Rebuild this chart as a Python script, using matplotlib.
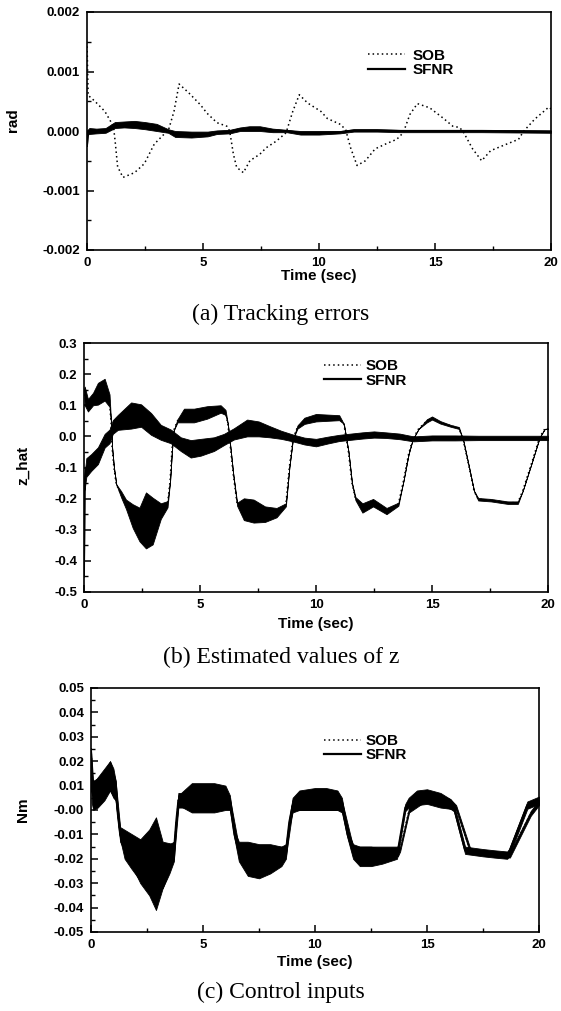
import numpy as np
import matplotlib
matplotlib.use("Agg")
import matplotlib.pyplot as plt
from matplotlib.ticker import MultipleLocator, FormatStrFormatter
from matplotlib.lines import Line2D

plt.rcParams['font.family'] = ['Liberation Sans', 'DejaVu Sans']

# ---------------- (a) Tracking errors ----------------
t_a_sob = [0, 0.05, 0.34, 0.77, 1.05, 1.15, 1.22, 1.32, 1.55, 2.05,
           2.47, 2.9, 3.33, 3.5, 3.75, 3.97, 4.39, 4.89, 5.17, 5.6,
           6.03, 6.15, 6.31, 6.45, 6.74, 7.02, 7.45, 7.73, 8.16, 8.58,
           8.87, 9.15, 9.51, 10.08, 10.36, 10.93, 11.15, 11.36, 11.64, 12.0,
           12.42, 12.92, 13.35, 13.63, 13.92, 14.24, 14.77, 15.34, 15.77, 16.05,
           16.2, 16.62, 17.01, 17.4, 17.9, 18.6, 18.83, 19.3, 19.9, 20.0]
v_a_sob = [0.0015, 0.0006, 0.0005, 0.00033, 0.00014, 0.00005, -0.0002, -0.0006, -0.00078, -0.0007,
           -0.00055, -0.00022, -0.00005, 0.0, 0.00033, 0.00079, 0.00064, 0.00044, 0.0003, 0.00014,
           0.00008, 0.0, -0.00039, -0.00061, -0.0007, -0.0005, -0.00039, -0.00028, -0.00017, -0.00003,
           0.00033, 0.00061, 0.00047, 0.00033, 0.00021, 0.00011, 0.00002, -0.00028, -0.00058, -0.0005,
           -0.0003, -0.00021, -0.00014, -0.00003, 0.00028, 0.00046, 0.00039, 0.00022, 0.00008, 0.00006,
           0.0, -0.0003, -0.0005, -0.00033, -0.00025, -0.00014, 0.0, 0.0002, 0.0004, 0.00037]

t_a_sfnr = [0, 0.03, 0.1, 0.4, 0.8, 1.2, 1.6, 2.05, 2.5, 3.0,
            3.5, 3.8, 4.5, 5.2, 5.6, 6.15, 6.6, 7.0, 7.45, 8.0,
            8.6, 9.2, 10.0, 10.9, 11.5, 12.5, 13.5, 15.0, 17.0, 20.0]
v_a_sfnr = [-0.00025, -0.00002, 0.0, 0.0, 0.00001, 0.0001, 0.00011, 0.00011, 0.00009, 0.00006,
            0.0, -0.00005, -0.00006, -0.00005, -0.00002, -0.00001, 0.00003, 0.00004, 0.00004, 0.00001,
            0.0, -0.00003, -0.00003, -0.00002, 0.00001, 0.00001, 0.0, 0.0, 0.0, -0.00001]
n_a_sfnr = [0.0, 0.00004, 0.00005, 0.00004, 0.00004, 0.00005, 0.00005, 0.00006, 0.00006, 0.00006,
            0.00003, 0.00005, 0.00005, 0.00004, 0.00003, 0.00003, 0.00003, 0.00004, 0.00004, 0.00003,
            0.00002, 0.00003, 0.00003, 0.00002, 0.00002, 0.00002, 0.00002, 0.00002, 0.00002, 0.00002]

# ---------------- (b) Estimated values of z ----------------
t_b_sob = [0, 0.03, 0.17, 0.39, 0.6, 0.89, 1.1, 1.17, 1.21, 1.29,
           1.39, 1.6, 1.81, 2.1, 2.39, 2.67, 2.96, 3.31, 3.6, 3.71,
           3.79, 3.86, 4.03, 4.31, 4.74, 5.31, 5.89, 6.1, 6.2, 6.31,
           6.43, 6.6, 6.89, 7.31, 7.8, 8.3, 8.7, 8.85, 9.0, 9.2,
           9.5, 10.0, 10.5, 11.0, 11.2, 11.4, 11.55, 11.7, 12.0, 12.46,
           13.04, 13.55, 13.77, 13.99, 14.17, 14.42, 14.78, 15.0, 15.36, 15.8,
           16.16, 16.35, 16.6, 16.81, 16.99, 17.54, 18.26, 18.7, 18.91, 19.28,
           19.64, 19.86, 20.0]
v_b_sob = [0.15, 0.13, 0.10, 0.12, 0.137, 0.15, 0.115, 0.04, -0.035, -0.10,
           -0.154, -0.186, -0.218, -0.256, -0.283, -0.27, -0.272, -0.24, -0.218, -0.143,
           -0.046, 0.018, 0.05, 0.067, 0.067, 0.077, 0.088, 0.077, 0.04, -0.035,
           -0.12, -0.218, -0.234, -0.24, -0.25, -0.245, -0.22, -0.1, -0.01, 0.03,
           0.05, 0.06, 0.06, 0.06, 0.04, -0.05, -0.15, -0.2, -0.23, -0.213,
           -0.24, -0.218, -0.143, -0.057, -0.009, 0.024, 0.05, 0.059, 0.045, 0.034,
           0.027, -0.014, -0.1, -0.175, -0.202, -0.205, -0.213, -0.213, -0.175, -0.089,
           -0.003, 0.024, 0.025]
n_b_sob = [0.0, 0.03, 0.02, 0.02, 0.035, 0.035, 0.02, 0.0, 0.0, 0.0,
           0.0, 0.01, 0.015, 0.038, 0.054, 0.09, 0.075, 0.025, 0.01, 0.0,
           0.0, 0.0, 0.005, 0.022, 0.022, 0.02, 0.012, 0.008, 0.0, 0.0,
           0.0, 0.005, 0.035, 0.037, 0.025, 0.015, 0.005, 0.0, 0.0, 0.005,
           0.01, 0.012, 0.01, 0.008, 0.0, 0.0, 0.0, 0.005, 0.015, 0.012,
           0.01, 0.005, 0.0, 0.0, 0.0, 0.0, 0.005, 0.005, 0.004, 0.003,
           0.003, 0.0, 0.0, 0.0, 0.004, 0.004, 0.004, 0.004, 0.0, 0.0,
           0.0, 0.0, 0.0]

t_b_sfnr = [0, 0.02, 0.1, 0.31, 0.6, 0.89, 1.1, 1.24, 1.46, 2.03,
            2.46, 2.89, 3.31, 3.74, 4.17, 4.6, 5.03, 5.6, 6.03, 6.46,
            7.03, 7.53, 8.0, 8.5, 9.0, 9.5, 10.0, 10.5, 11.0, 12.0,
            12.5, 13.0, 13.6, 14.2, 15.0, 16.0, 17.0, 18.0, 19.0, 20.0]
v_b_sfnr = [-0.45, -0.15, -0.1, -0.084, -0.062, -0.014, 0.0, 0.03, 0.045, 0.067,
            0.067, 0.04, 0.013, 0.0, -0.025, -0.04, -0.035, -0.025, -0.01, 0.008,
            0.027, 0.024, 0.015, 0.005, -0.005, -0.015, -0.02, -0.012, -0.005, 0.003,
            0.006, 0.004, 0.0, -0.008, -0.005, -0.005, -0.005, -0.005, -0.005, -0.005]
n_b_sfnr = [0.0, 0.025, 0.03, 0.027, 0.027, 0.022, 0.022, 0.022, 0.024, 0.042,
            0.036, 0.035, 0.024, 0.022, 0.022, 0.028, 0.027, 0.022, 0.018, 0.018,
            0.027, 0.024, 0.018, 0.013, 0.011, 0.011, 0.012, 0.011, 0.01, 0.01,
            0.01, 0.009, 0.009, 0.008, 0.008, 0.008, 0.007, 0.007, 0.007, 0.007]

# ---------------- (c) Control inputs ----------------
t_c_sfnr = [0, 0.03, 0.1, 0.3, 0.6, 0.85, 1.0, 1.1, 1.2, 1.3,
            1.5, 1.8, 2.2, 2.6, 2.9, 3.2, 3.5, 3.7, 3.8, 3.9,
            4.5, 5.0, 5.5, 6.0, 6.2, 6.4, 6.6, 7.0, 7.5, 8.0,
            8.5, 8.7, 8.85, 9.0, 9.3, 10.0, 10.5, 11.0, 11.2, 11.45,
            11.7, 12.0, 12.5, 13.0, 13.66, 13.73, 14.03, 14.18, 14.55, 15.0,
            15.6, 16.04, 16.2, 16.7, 17.5, 18.0, 18.58, 18.66, 19.48, 20.0]
v_c_sfnr = [0.025, 0.008, 0.006, 0.007, 0.01, 0.014, 0.011, 0.008, -0.002, -0.01,
            -0.015, -0.018, -0.021, -0.023, -0.024, -0.023, -0.02, -0.017, -0.005, 0.004,
            0.005, 0.005, 0.005, 0.005, 0.003, -0.01, -0.017, -0.02, -0.021, -0.02,
            -0.019, -0.017, -0.005, 0.002, 0.004, 0.0045, 0.0045, 0.004, 0.002, -0.01,
            -0.017, -0.019, -0.019, -0.019, -0.018, -0.015, 0.001, 0.003, 0.005, 0.0055,
            0.004, 0.0025, 0.001, -0.0165, -0.0175, -0.018, -0.0185, -0.0175, 0.002, 0.004]
n_c_sfnr = [0.0, 0.005, 0.006, 0.006, 0.006, 0.006, 0.006, 0.004, 0.002, 0.002,
            0.005, 0.006, 0.008, 0.009, 0.01, 0.009, 0.006, 0.004, 0.0015, 0.002,
            0.006, 0.006, 0.006, 0.005, 0.003, 0.0015, 0.004, 0.007, 0.007, 0.006,
            0.004, 0.003, 0.0015, 0.003, 0.004, 0.0045, 0.0045, 0.004, 0.003, 0.0015,
            0.003, 0.004, 0.004, 0.003, 0.002, 0.0015, 0.0015, 0.002, 0.003, 0.003,
            0.003, 0.002, 0.0015, 0.0015, 0.0015, 0.0015, 0.0015, 0.0015, 0.0015, 0.0015]

t_c_sob = [0, 0.1, 0.85, 1.1, 1.3, 2.2, 2.6, 2.9, 3.2, 3.7,
           3.9, 6.2, 6.6, 7.5, 8.7, 9.0, 11.2, 11.7, 13.7, 13.8,
           14.2, 15.0, 16.04, 16.3, 16.94, 18.0, 18.7, 19.63, 20.0]
v_c_sob = [0.025, 0.006, 0.014, 0.008, -0.01, -0.021, -0.0215, -0.022, -0.0225, -0.017,
           0.004, 0.003, -0.017, -0.021, -0.017, 0.002, 0.002, -0.017, -0.017, -0.016,
           0.0, 0.006, 0.0025, 0.001, -0.017, -0.018, -0.0185, -0.0014, 0.003]
n_c_sob = [0.0, 0.005, 0.006, 0.004, 0.003, 0.009, 0.0135, 0.019, 0.0095, 0.003,
           0.003, 0.002, 0.002, 0.006, 0.002, 0.002, 0.002, 0.002, 0.002, 0.001,
           0.001, 0.002, 0.002, 0.001, 0.001, 0.001, 0.001, 0.001, 0.001]

x_ticks = [0, 5, 10, 15, 20]
legend_labels = ['SOB', 'SFNR']
captions = ['(a) Tracking errors', '(b) Estimated values of z', '(c) Control inputs']
ylabels = ['rad', 'z_hat', 'Nm']

W, H = 561, 1011
fig = plt.figure(figsize=(W / 100, H / 100), dpi=100)
fig.patch.set_facecolor('white')


def px_axes(l, r, t, b):
    return fig.add_axes([l / W, 1 - b / H, (r - l) / W, (b - t) / H])


ax_a = px_axes(87, 551, 12, 250)
ax_b = px_axes(84, 548, 343, 592)
ax_c = px_axes(91, 539, 688, 932)

dot = (0, (1.0, 2.0))


def band(ax, t, v, n, lw_line, ls):
    t = np.asarray(t); v = np.asarray(v); n = np.asarray(n)
    ax.fill_between(t, v - n, v + n, color='black', lw=0.6, edgecolor='black', zorder=2)
    ax.plot(t, v, color='black', lw=lw_line, ls=ls, zorder=3)


# (a)
ax_a.plot(t_a_sob, v_a_sob, color='black', lw=1.1, ls=dot, zorder=3)
band(ax_a, t_a_sfnr, v_a_sfnr, n_a_sfnr, 1.4, '-')
# (b)
band(ax_b, t_b_sob, v_b_sob, n_b_sob, 1.1, dot)
band(ax_b, t_b_sfnr, v_b_sfnr, n_b_sfnr, 1.4, '-')
# (c)
band(ax_c, t_c_sob, v_c_sob, n_c_sob, 1.1, dot)
band(ax_c, t_c_sfnr, v_c_sfnr, n_c_sfnr, 1.4, '-')

specs = [
    (ax_a, (-0.002, 0.002), 0.001, 0.0005, '%.3f', (-0.16, 0.546), -0.109, (0.6055, 0.786), 0.46),
    (ax_b, (-0.5, 0.3), 0.1, 0.05, '%.1f', (-0.1315, 0.51), -0.1285, (0.517, 0.8775), 0.3),
    (ax_c, (-0.05, 0.05), 0.01, 0.005, '%.2f', (-0.152, 0.5), -0.123, (0.52, 0.754), 0.3),
]
for i, (ax, ylim, maj, mnr, fmt, ylc, xly, legpos, htp) in enumerate(specs):
    ax.set_xlim(0, 20)
    ax.set_ylim(*ylim)
    ax.set_xticks(x_ticks)
    ax.xaxis.set_minor_locator(MultipleLocator(2.5))
    ax.yaxis.set_major_locator(MultipleLocator(maj))
    ax.yaxis.set_minor_locator(MultipleLocator(mnr))
    ax.yaxis.set_major_formatter(FormatStrFormatter(fmt))
    ax.tick_params(which='major', direction='in', length=5, width=1.1, pad=5,
                   labelsize=9.5, top=False, right=False)
    ax.tick_params(which='minor', direction='in', length=3, width=1.0, top=False, right=False)
    for lab in ax.get_xticklabels() + ax.get_yticklabels():
        lab.set_fontweight('bold')
    for s in ax.spines.values():
        s.set_linewidth(1.2)
    ax.set_xlabel('Time (sec)', fontsize=11, fontweight='bold')
    ax.xaxis.label.set_verticalalignment('center')
    ax.xaxis.set_label_coords(0.5, xly)
    ax.set_ylabel(ylabels[i], fontsize=11, fontweight='bold')
    ax.yaxis.label.set_verticalalignment('center')
    ax.yaxis.set_label_coords(*ylc)
    handles = [Line2D([], [], color='black', lw=1.1, ls=dot),
               Line2D([], [], color='black', lw=1.6, ls='-')]
    ax.legend(handles, legend_labels, loc='center left', bbox_to_anchor=legpos,
              frameon=False, borderaxespad=0, borderpad=0, handlelength=2.45,
              handletextpad=htp, labelspacing=0.02,
              prop={'family': 'Liberation Sans', 'weight': 'bold', 'size': 11})

cap_y = [314, 657, 992]
for c, y in zip(captions, cap_y):
    fig.text(281 / W, 1 - y / H, c, ha='center', va='center',
             fontsize=17, family='Liberation Serif')

fig.savefig('out.png', dpi=100, facecolor='white')
